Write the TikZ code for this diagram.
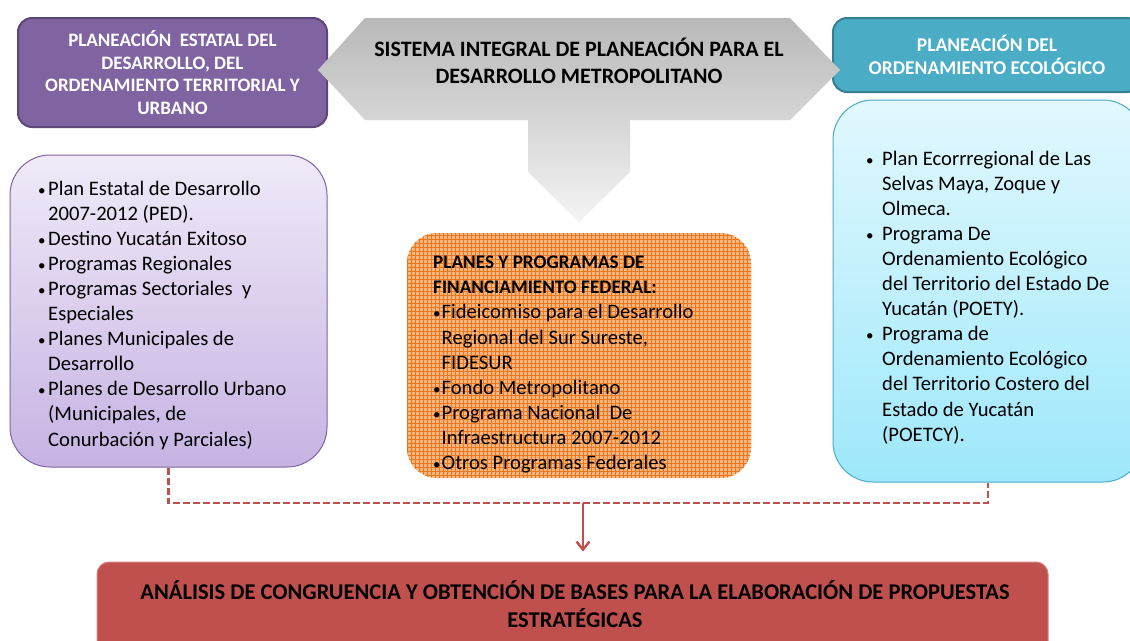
\documentclass[tikz,border=0pt]{standalone}
\usepackage{fontspec}
\setmainfont{Carlito}
\usetikzlibrary{arrows.meta}
\definecolor{purp}{HTML}{8064A2}
\definecolor{purpdk}{HTML}{5C4778}
\definecolor{purplt}{HTML}{F0EAF8}
\definecolor{purpbt}{HTML}{C6B3E3}
\definecolor{cyanh}{HTML}{4BACC6}
\definecolor{cyandk}{HTML}{357F93}
\definecolor{cyanlt}{HTML}{E2F8FE}
\definecolor{cyanbt}{HTML}{9EE8FB}
\definecolor{orgfill}{HTML}{F6B47E}
\definecolor{orggrid}{HTML}{E8781E}
\definecolor{redbox}{HTML}{C0504D}
\definecolor{graytop}{HTML}{B8B8B8}
\definecolor{graybot}{HTML}{F4F4F4}
\newcommand{\smdot}{{\fontsize{15}{15}\selectfont•}}
\newcommand{\bulA}{\makebox[10pt][l]{\smdot}}
\newcommand{\indA}{\hspace*{10pt}}
\newcommand{\bulB}{\makebox[16pt][l]{\smdot}}
\newcommand{\indB}{\hspace*{16pt}}
\newcommand{\bulC}{\makebox[8.5pt][l]{\smdot}}
\newcommand{\indC}{\hspace*{8.5pt}}
\begin{document}
\begin{tikzpicture}[x=1pt,y=-1pt,
  hdr/.style={rounded corners=14pt, line width=2pt, text=white, font=\bfseries\fontsize{19}{22.7}\selectfont, align=center, inner sep=0pt},
  listtxt/.style={anchor=north west, inner sep=0pt, align=left, font=\fontsize{20.6}{25.1}\selectfont},
  content/.style={rounded corners=40pt, line width=1pt, inner sep=0pt},
  conn/.style={draw=redbox, line width=2.6pt, dash pattern=on 7pt off 3pt}
]
\clip (0,0) rectangle (1130,640);
\fill[white] (0,0) rectangle (1130,640);

% headers
\node[hdr, fill=purp, draw=purpdk, minimum width=309pt, minimum height=109pt] (ph) at (172.5,72.5)
  {PLANEACIÓN\ \ ESTATAL DEL\\DESARROLLO, DEL\\ORDENAMIENTO TERRITORIAL Y\\URBANO};
\node[hdr, fill=cyanh, draw=cyandk, minimum width=308pt, minimum height=74pt, font=\bfseries\fontsize{19.5}{22.5}\selectfont] (ch) at (987,55)
  {PLANEACIÓN DEL\\ORDENAMIENTO ECOLÓGICO};

% central gray arrow shape
\path[top color=graytop, bottom color=graybot]
  (318,70) -- (365,18) -- (790,18) -- (840,70) -- (790,120) -- (630,120) -- (630,172)
  -- (579,222) -- (528,172) -- (528,120) -- (365,120) -- cycle;
\node[font=\bfseries\fontsize{22}{27}\selectfont, align=center] (sis) at (579,60.5)
  {SISTEMA INTEGRAL DE PLANEACIÓN PARA EL\\DESARROLLO METROPOLITANO};

% content boxes
\node[content, draw=purp, top color=purplt, bottom color=purpbt, minimum width=317pt, minimum height=312pt] (pl) at (168.5,311) {};
\node[listtxt] (plt) at (38,180.5) {\bulA Plan Estatal de Desarrollo\\
\indA 2007-2012 (PED).\\
\bulA Destino Yucatán Exitoso\\
\bulA Programas Regionales\\
\bulA Programas Sectoriales\ \ y\\
\indA Especiales\\
\bulA Planes Municipales de\\
\indA Desarrollo\\
\bulA Planes de Desarrollo Urbano\\
\indA (Municipales, de\\
\indA Conurbación y Parciales)};

\node[content, rounded corners=30pt, draw=none, fill=orgfill, minimum width=344pt, minimum height=245pt,
  path picture={\draw[orggrid, line width=0.6pt] (path picture bounding box.south west) grid[step=4pt] (path picture bounding box.north east);}] (oc) at (579,355.5) {};
\node[listtxt] (oct) at (433,256) {{\bfseries\fontsize{19.2}{23}\selectfont PLANES Y PROGRAMAS DE}\\
{\bfseries\fontsize{19.2}{25}\selectfont FINANCIAMIENTO FEDERAL:}\\
\bulC Fideicomiso para el Desarrollo\\
\indC Regional del Sur Sureste,\\
\indC FIDESUR\\
\bulC Fondo Metropolitano\\
\bulC Programa Nacional\ \ De\\
\indC Infraestructura 2007-2012\\
\bulC Otros Programas Federales};

\node[content, draw=cyanh, top color=cyanlt, bottom color=cyanbt, minimum width=310pt, minimum height=382pt] (pc) at (988,291) {};
\node[listtxt] (pct) at (866,150.5) {\bulB Plan Ecorrregional de Las\\
\indB Selvas Maya, Zoque y\\
\indB Olmeca.\\
\bulB Programa De\\
\indB Ordenamiento Ecológico\\
\indB del Territorio del Estado De\\
\indB Yucatán (POETY).\\
\bulB Programa de\\
\indB Ordenamiento Ecológico\\
\indB del Territorio Costero del\\
\indB Estado de Yucatán\\
\indB (POETCY).};

% bottom box
\node[rounded corners=12pt, fill=redbox, draw=redbox!70!white, line width=1pt, minimum width=951pt, minimum height=98pt, inner sep=0pt] (rb) at (572.5,611) {};
\node[font=\bfseries\fontsize{22.5}{28}\selectfont, align=center] (rbt) at (575,604)
  {ANÁLISIS DE CONGRUENCIA Y OBTENCIÓN DE BASES PARA LA ELABORACIÓN DE PROPUESTAS\\ESTRATÉGICAS};

% connectors
\coordinate (jn) at (583,503);
\draw[conn] (pl.south) -- (pl.south |- jn) -- (pc.south |- jn) -- (pc.south);
\draw[redbox, line width=2.4pt, shorten >=10pt, -{Straight Barb[length=8pt,width=13pt]}] (jn) -- (jn |- rb.north);
\end{tikzpicture}
\end{document}
